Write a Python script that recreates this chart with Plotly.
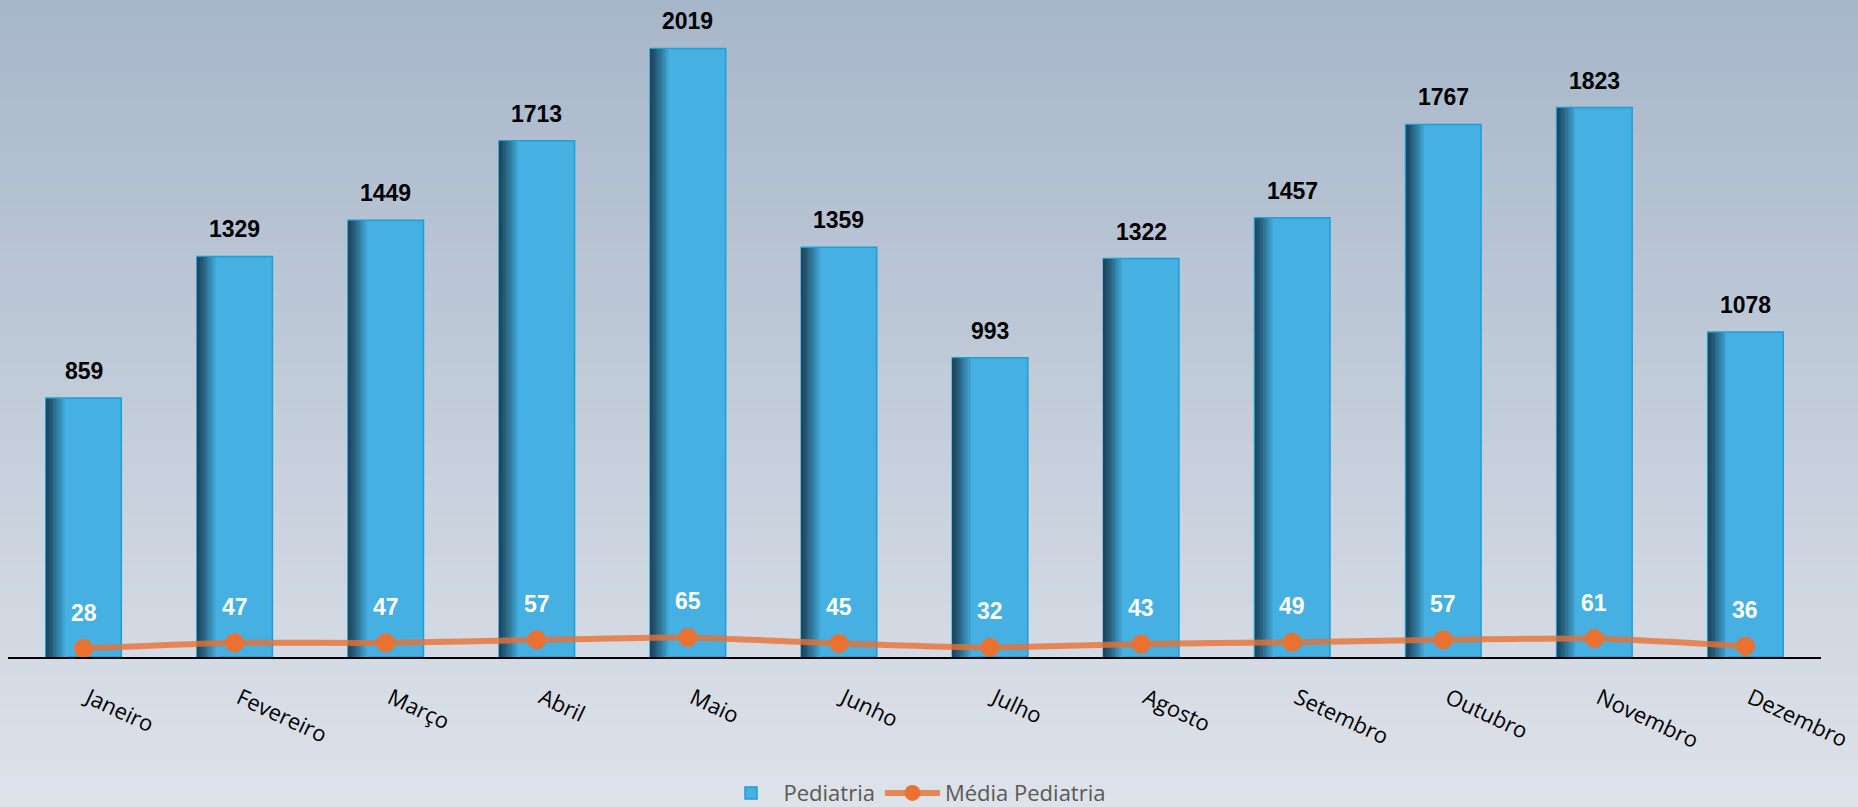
import plotly.graph_objects as go

months = ["Janeiro", "Fevereiro", "Março", "Abril", "Maio", "Junho",
          "Julho", "Agosto", "Setembro", "Outubro", "Novembro", "Dezembro"]
pediatria = [859, 1329, 1449, 1713, 2019, 1359, 993, 1322, 1457, 1767, 1823, 1078]
media_pediatria = [28, 47, 47, 57, 65, 45, 32, 43, 49, 57, 61, 36]

BAR_MAIN = (69, 176, 225)
BAR_DARK = (30, 72, 96)
BAR_EDGE = "#1a9fd9"
ORANGE = "#e97132"

W, H = 1858, 807
ML, MR, MT, MB = 8, 37, 24, 150
PW, PH = W - ML - MR, H - MT - MB

fig = go.Figure()

# main bars
fig.add_trace(go.Bar(
    x=months, y=pediatria, name="Pediatria",
    width=0.5, offset=-0.25,
    marker=dict(color="rgb(%d,%d,%d)" % BAR_MAIN, line=dict(color=BAR_EDGE, width=1.5)),
    hoverinfo="x+y",
))

# left-edge shading strips (simulated gradient)
n_strips = 14
strip_w = 0.0095
for i in range(n_strips):
    t = (i / (n_strips - 1)) ** 1.2
    c = tuple(int(BAR_DARK[k] + (BAR_MAIN[k] - BAR_DARK[k]) * t) for k in range(3))
    fig.add_trace(go.Bar(
        x=months, y=[v - 2 for v in pediatria],
        width=strip_w, offset=-0.25 + 0.004 + i * strip_w,
        marker=dict(color="rgb(%d,%d,%d)" % c, line=dict(width=0)),
        showlegend=False, hoverinfo="skip",
    ))

# line
fig.add_trace(go.Scatter(
    x=months, y=media_pediatria, name="Média Pediatria",
    mode="lines+markers",
    line=dict(color="rgba(233,113,50,0.8)", width=6, shape="spline", smoothing=0.6),
    marker=dict(color=ORANGE, size=19),
))

annotations = []
for m, v in zip(months, pediatria):
    annotations.append(dict(
        x=m, y=v, text="<b>%d</b>" % v, showarrow=False, yshift=27,
        yanchor="middle", xanchor="center",
        font=dict(family="Liberation Sans, Arial", size=23, color="#000000"),
    ))
for m, v in zip(months, media_pediatria):
    annotations.append(dict(
        x=m, y=v, text="<b>%d</b>" % v, showarrow=False, yshift=36,
        yanchor="middle", xanchor="center",
        font=dict(family="Liberation Sans, Arial", size=23, color="#ffffff"),
    ))

# background vertical gradient using bands
top_c = (167, 183, 202)
bot_c = (223, 227, 234)
shapes = []
n_bands = 80
for i in range(n_bands):
    py0 = H * i / n_bands
    py1 = H * (i + 1) / n_bands + 1
    t = (i + 0.5) / n_bands
    c = tuple(int(top_c[k] + (bot_c[k] - top_c[k]) * t) for k in range(3))
    y0 = (H - MB - py0) / PH
    y1 = (H - MB - py1) / PH
    shapes.append(dict(
        type="rect", xref="paper", yref="paper",
        x0=-0.05, x1=1.05, y0=y1, y1=y0,
        fillcolor="rgb(%d,%d,%d)" % c, line=dict(width=0), layer="below",
    ))

fig.update_layout(
    width=W, height=H,
    barmode="overlay",
    margin=dict(l=ML, r=MR, t=MT, b=MB, autoexpand=False),
    paper_bgcolor="rgb(200,208,218)",
    plot_bgcolor="rgba(0,0,0,0)",
    shapes=shapes,
    annotations=annotations,
    showlegend=True,
    legend=dict(
        orientation="h", x=0.5, xanchor="center", y=-0.215, yanchor="middle",
        font=dict(family="Open Sans, Noto Sans", size=22, color="#595959"),
        bgcolor="rgba(0,0,0,0)", itemwidth=55,
    ),
    xaxis=dict(
        showline=True, linecolor="#000000", linewidth=2,
        showgrid=False, zeroline=False, ticks="",
        tickangle=25, ticklabelstandoff=18, ticklabelshift=5,
        tickfont=dict(family="Open Sans, Noto Sans", size=22, color="#000000"),
        range=[-0.5, 11.5], automargin=False,
    ),
    yaxis=dict(visible=False, range=[0, 2100], showgrid=False, zeroline=False),
)

fig.write_html(
    "out.html",
    config={"displayModeBar": False},
    post_script="document.body.style.margin='0px';document.body.style.padding='0px';document.body.style.overflow='hidden';",
)
